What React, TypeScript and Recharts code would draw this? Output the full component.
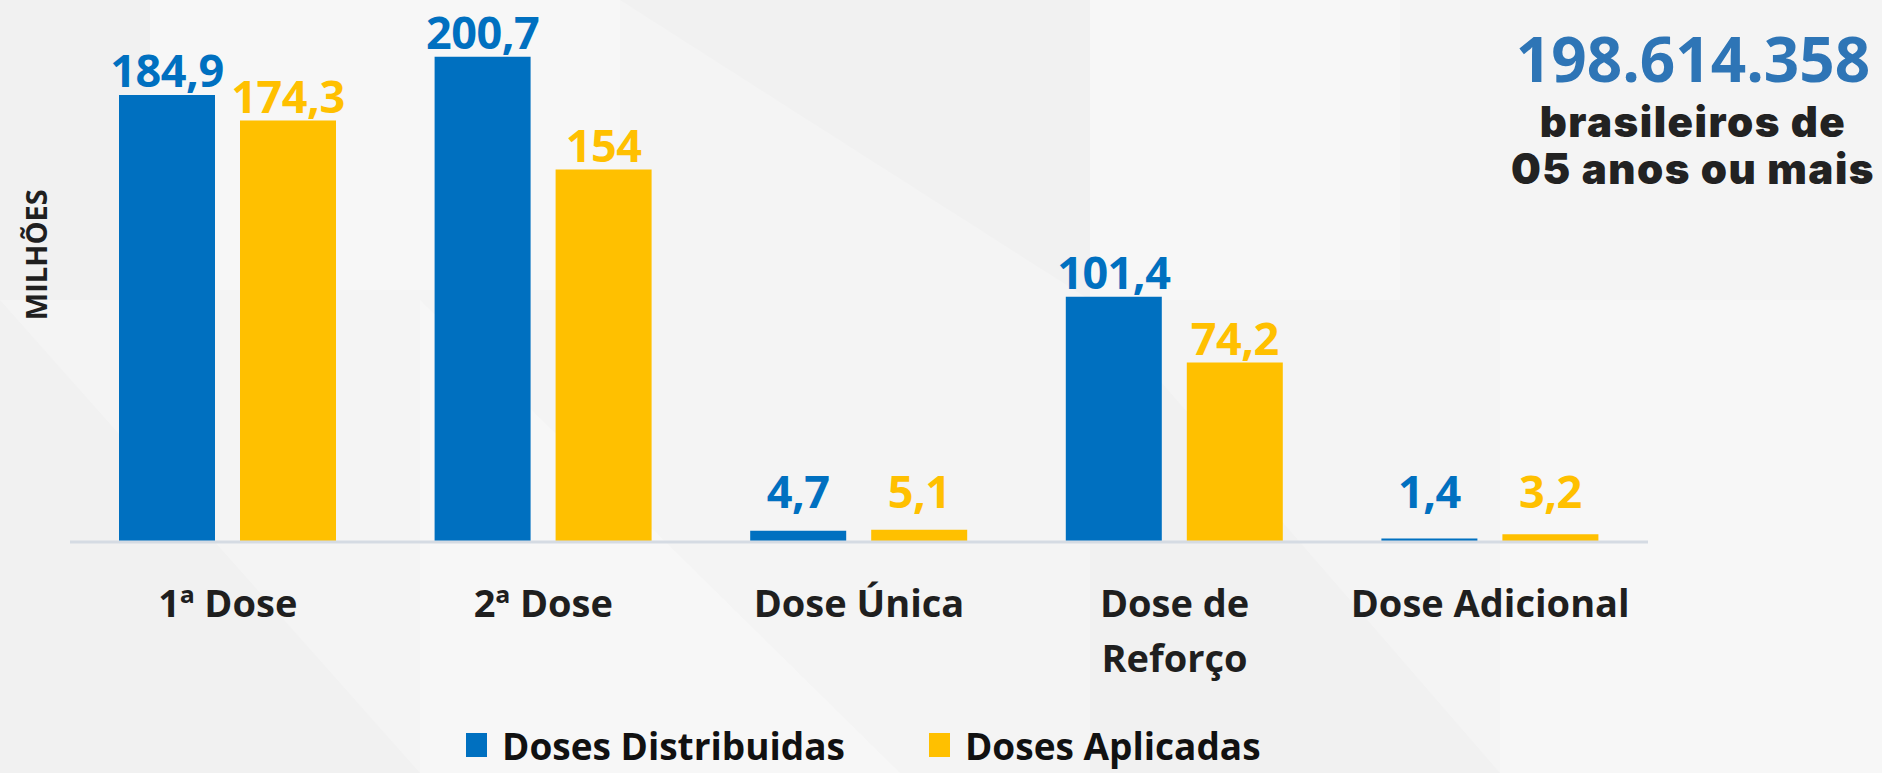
import React from "react";
import { BarChart, Bar, XAxis, YAxis, Legend, LabelList } from "recharts";

const categories = ["1ª Dose", "2ª Dose", "Dose Única", "Dose de\nReforço", "Dose Adicional"];
const distribuidas = [184.9, 200.7, 4.7, 101.4, 1.4];
const aplicadas = [174.3, 154, 5.1, 74.2, 3.2];
const seriesNames = ["Doses Distribuidas", "Doses Aplicadas"];
const COLORS = ["#0070C0", "#FFC000"];

const data = categories.map((name, i) => ({ name, dist: distribuidas[i], apl: aplicadas[i] }));

const FONT = "'Open Sans', 'DejaVu Sans', sans-serif";

const fmt = (v: number) => String(v).replace(".", ",");

// faint background facets, like the slide's texture
const facets = [
  "0,0 150,0 150,300 0,300",
  "150,0 620,0 620,290 150,290",
  "620,0 1090,0 1090,300",
  "1090,0 1400,0 1400,300 1090,300",
  "0,300 420,773 0,773",
  "420,300 900,773 420,773",
  "1090,300 1500,773 1090,773",
  "1500,300 1882,300 1882,773 1500,773",
];

function CategoryTick({ x, y, payload }: any) {
  const lines = String(payload.value).split("\n");
  return (
    <text x={x} y={y} textAnchor="middle" fontFamily={FONT} fontWeight={700} fontSize={38} fill="#1f1f1f">
      {lines.map((l, i) => (
        <tspan key={i} x={x} dy={i === 0 ? 75 : 55}>{l}</tspan>
      ))}
    </text>
  );
}

const valueLabel = (color: string) => (props: any) => {
  const { x, y, width, height, value } = props;
  const ty = Math.min(y - 8, y + height - 34);
  return (
    <text x={x + width / 2} y={ty} textAnchor="middle" fontFamily={FONT} fontWeight={700} fontSize={45}
      letterSpacing={-0.5} fill={color}>
      {fmt(value)}
    </text>
  );
};

function LegendBox({ payload }: any) {
  const items = [...(payload || [])].sort(
    (a: any, b: any) => seriesNames.indexOf(a.value) - seriesNames.indexOf(b.value)
  );
  return (
    <div style={{ display: "flex", alignItems: "center", paddingLeft: 466, height: 46 }}>
      {items.map((p: any, i: number) => (
        <div key={i} style={{ display: "flex", alignItems: "center", marginRight: 84 }}>
          <div style={{ width: 21, height: 24, background: p.color, marginRight: 15 }} />
          <span style={{ fontFamily: FONT, fontWeight: 700, fontSize: 37, color: "#111" }}>{p.value}</span>
        </div>
      ))}
    </div>
  );
}

function YLabel({ viewBox }: any) {
  const cx = 36;
  const cy = viewBox.y + viewBox.height * 0.46;
  return (
    <text x={cx} y={cy} transform={`rotate(-90 ${cx} ${cy})`} textAnchor="middle" dominantBaseline="central"
      fontFamily={FONT} fontWeight={700} fontSize={29} fill="#1f1f1f">
      MILHÕES
    </text>
  );
}

export default function App() {
  return (
    <div style={{ position: "fixed", left: 0, top: 0, width: 1882, height: 773, background: "#f4f4f4", overflow: "hidden" }}>
      <svg width={1882} height={773} style={{ position: "absolute", left: 0, top: 0 }}>
        {facets.map((p, i) => (
          <polygon key={i} points={p} fill={i % 2 === 0 ? "#f1f1f1" : "#f7f7f7"} />
        ))}
      </svg>
      <div style={{ position: "absolute", left: 0, top: 0 }}>
        <BarChart width={1882} height={773} data={data} margin={{ top: 10, right: 234, left: 0, bottom: 0 }}
          barCategoryGap={50} barGap={25}>
          <YAxis width={70} domain={[0, 220]} tick={false} axisLine={false} tickLine={false} label={<YLabel />} />
          <XAxis dataKey="name" height={185} tick={<CategoryTick />} tickLine={false} tickSize={0} tickMargin={0}
            axisLine={{ stroke: "#d5dbe3", strokeWidth: 3 }} interval={0} />
          <Legend verticalAlign="bottom" height={46} content={<LegendBox />}
            wrapperStyle={{ left: 0, bottom: 5, width: 1882, height: 46 }} />
          <Bar dataKey="dist" name={seriesNames[0]} fill={COLORS[0]} barSize={96} isAnimationActive={false}>
            <LabelList dataKey="dist" content={valueLabel(COLORS[0])} />
          </Bar>
          <Bar dataKey="apl" name={seriesNames[1]} fill={COLORS[1]} barSize={96} isAnimationActive={false}>
            <LabelList dataKey="apl" content={valueLabel(COLORS[1])} />
          </Bar>
        </BarChart>
      </div>
      <svg width={440} height={200} style={{ position: "absolute", left: 1473, top: 0 }}>
        <text x={220} y={82} textAnchor="middle" fontFamily={FONT} fontWeight={700} fontSize={62} fill="#2E75B6">198.614.358</text>
        <text x={220} y={137} textAnchor="middle" fontFamily="Inter, sans-serif" fontWeight={900} fontSize={42}
          letterSpacing={1.5} fill="#222">brasileiros de</text>
        <text x={220} y={184} textAnchor="middle" fontFamily="Inter, sans-serif" fontWeight={900} fontSize={42}
          letterSpacing={1.5} fill="#222">05 anos ou mais</text>
      </svg>
    </div>
  );
}
